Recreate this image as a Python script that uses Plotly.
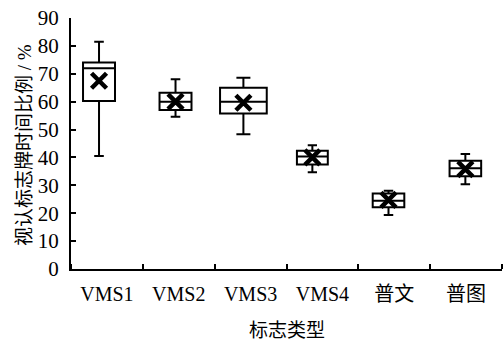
import plotly.graph_objects as go

categories = ["VMS1", "VMS2", "VMS3", "VMS4", "普文", "普图"]
upper = [81.5, 68.0, 68.6, 44.4, 28.1, 41.2]
q3 = [74.0, 63.2, 65.0, 42.4, 27.1, 38.8]
median = [72.0, 60.0, 60.0, 40.3, 24.5, 36.1]
q1 = [60.2, 57.0, 55.8, 37.5, 22.1, 33.3]
lower = [40.5, 54.6, 48.3, 34.7, 19.4, 30.4]
mean = [67.5, 60.0, 59.6, 40.0, 24.8, 35.8]
y_ticks = [0, 10, 20, 30, 40, 50, 60, 70, 80, 90]
x_title = "标志类型"
y_title = "视认标志牌时间比例 / %"

# layout-only placement tweaks (category slot units)
shift = [-0.11, -0.045, -0.10, -0.14, -0.08, -0.01]
widths = [0.445, 0.445, 0.65, 0.43, 0.44, 0.44]

FONT = "Liberation Serif, 'Times New Roman', 'Noto Sans CJK SC', serif"

fig = go.Figure()
xs = []
for i, c in enumerate(categories):
    x = i + 1 + shift[i]
    xs.append(x)
    fig.add_trace(go.Box(
        x=[x], q1=[q1[i]], median=[median[i]], q3=[q3[i]],
        lowerfence=[lower[i]], upperfence=[upper[i]],
        width=widths[i], whiskerwidth=0.3,
        line=dict(color="black", width=2), fillcolor="white",
        boxpoints=False, showlegend=False, name=c,
    ))

fig.add_trace(go.Scatter(
    x=xs, y=mean, mode="markers", showlegend=False,
    marker=dict(symbol="x-thin", size=15, line=dict(color="black", width=4.5), color="black"),
))

fig.update_layout(
    width=503, height=342,
    margin=dict(l=71, r=1, t=18, b=73),
    paper_bgcolor="white", plot_bgcolor="white",
    font=dict(family=FONT, size=20, color="black"),
    annotations=[
        dict(text=x_title, xref="paper", yref="paper", x=0.5, y=0,
             xanchor="center", yanchor="middle", yshift=-61, showarrow=False,
             font=dict(size=19)),
        dict(text=y_title, xref="paper", yref="paper", x=0, y=0.494,
             xanchor="center", yanchor="middle", xshift=-47, showarrow=False,
             textangle=-90, font=dict(size=19)),
    ],
)
fig.update_xaxes(
    range=[0.5, 6.5], tickvals=list(range(1, 7)), ticktext=categories,
    ticks="", showline=True, linecolor="black", linewidth=2, showgrid=False,
    zeroline=False, mirror=False, automargin=False, ticklabelstandoff=6,
    ticklabeloverflow="allow",
    minor=dict(ticks="inside", tickmode="linear", tick0=0.5, dtick=1, ticklen=5,
               tickcolor="black", tickwidth=1.5, showgrid=False),
    tickfont=dict(size=20),
)
fig.update_yaxes(
    range=[0, 90], tickvals=y_ticks, ticks="inside", ticklen=5, tickwidth=1.5,
    tickcolor="black", showline=True, linecolor="black", linewidth=2,
    showgrid=False, zeroline=False, automargin=False, ticklabelstandoff=6,
    ticklabeloverflow="allow",
    tickfont=dict(size=21),
)

fig.write_html("out.html", config={"displayModeBar": False},
               post_script="document.body.style.margin='0';")
